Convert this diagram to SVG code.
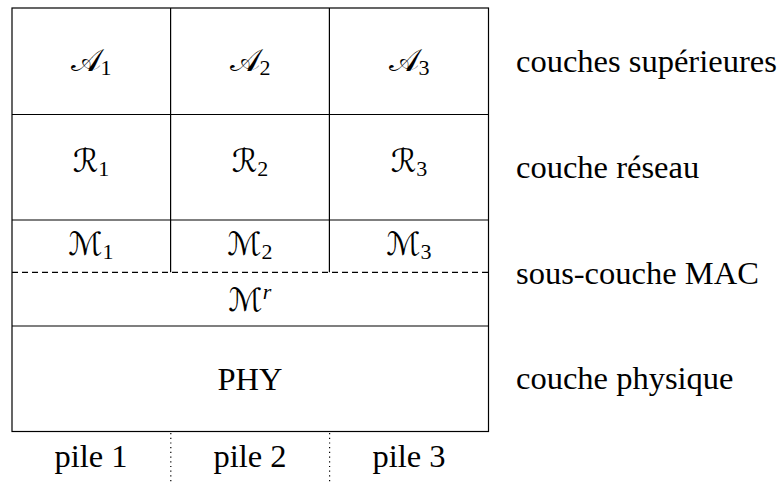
<svg xmlns="http://www.w3.org/2000/svg" width="782" height="483" viewBox="0 0 782 483">
<style>
.ln{stroke:#000;stroke-width:1.2;fill:none}
.dash{stroke:#000;stroke-width:1.2;stroke-dasharray:6,4;fill:none}
.dot{stroke:#000;stroke-width:1.2;stroke-dasharray:1.2,3.5;fill:none}
.t{font-family:"Liberation Serif","Times New Roman","DejaVu Serif",serif;font-size:32.5px;fill:#000}
.m{font-family:"DejaVu Serif","DejaVu Sans","Noto Sans","Liberation Serif",serif;font-size:32px;fill:#000;text-anchor:middle}
.c{text-anchor:middle}
.sub{font-family:"Liberation Serif","Times New Roman",serif;font-size:22px}
.sup{font-family:"Liberation Serif","Times New Roman",serif;font-size:22px;font-style:italic}
</style>
<rect width="782" height="483" fill="#fff"/>
<g id="connectors">
<rect class="ln" x="12" y="8" width="476.5" height="423.5"/>
<line class="ln" x1="12" y1="114.5" x2="488.5" y2="114.5"/>
<line class="ln" x1="12" y1="220" x2="488.5" y2="220"/>
<line class="ln" x1="12" y1="326" x2="488.5" y2="326"/>
<line class="dash" x1="12" y1="272.3" x2="488.5" y2="272.3"/>
<line class="ln" x1="170.6" y1="8" x2="170.6" y2="272.3"/>
<line class="ln" x1="329.4" y1="8" x2="329.4" y2="272.3"/>
<line class="dot" x1="170.8" y1="433" x2="170.8" y2="483"/>
<line class="dot" x1="329.6" y1="433" x2="329.6" y2="483"/>
</g>
<g id="A1"><text class="m" x="91" y="71">𝒜<tspan class="sub" dy="4">1</tspan></text></g>
<g id="A2"><text class="m" x="250" y="71">𝒜<tspan class="sub" dy="4">2</tspan></text></g>
<g id="A3"><text class="m" x="409" y="71">𝒜<tspan class="sub" dy="4">3</tspan></text></g>
<g id="R1"><text class="m" x="91" y="172">ℛ<tspan class="sub" dy="4">1</tspan></text></g>
<g id="R2"><text class="m" x="250" y="172">ℛ<tspan class="sub" dy="4">2</tspan></text></g>
<g id="R3"><text class="m" x="409" y="172">ℛ<tspan class="sub" dy="4">3</tspan></text></g>
<g id="M1"><text class="m" x="91" y="255">ℳ<tspan class="sub" dy="4">1</tspan></text></g>
<g id="M2"><text class="m" x="250" y="255">ℳ<tspan class="sub" dy="4">2</tspan></text></g>
<g id="M3"><text class="m" x="409" y="255">ℳ<tspan class="sub" dy="4">3</tspan></text></g>
<g id="Mr"><text class="m" x="250" y="311">ℳ<tspan class="sup" dy="-12">r</tspan></text></g>
<g id="PHY"><text class="t c" x="250" y="390">PHY</text></g>
<g id="labels">
<text class="t" x="516" y="72">couches supérieures</text>
<text class="t" x="516" y="177.5">couche réseau</text>
<text class="t" x="516" y="283.5">sous-couche MAC</text>
<text class="t" x="516" y="389">couche physique</text>
<text class="t c" x="91" y="467">pile 1</text>
<text class="t c" x="250" y="467">pile 2</text>
<text class="t c" x="409" y="467">pile 3</text>
</g>
</svg>
